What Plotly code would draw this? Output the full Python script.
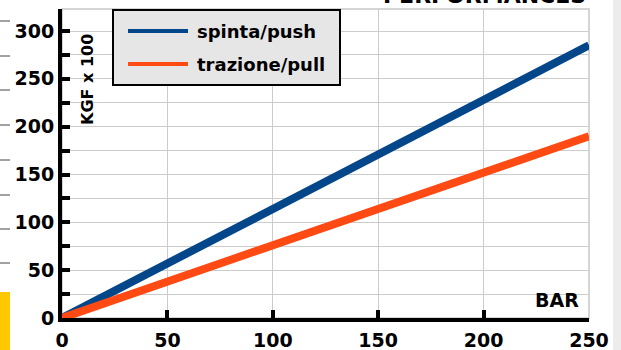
import plotly.graph_objects as go

# Cylinder force vs. pressure
pressure_bar = [0, 250]
push_kgf100 = [0, 285]
pull_kgf100 = [0, 190]
series_names = ["spinta/push", "trazione/pull"]
series_colors = ["#03468a", "#ff4a14"]
y_tick_vals = list(range(0, 325, 25))
y_tick_text = [str(v) if v % 50 == 0 else "" for v in y_tick_vals]
x_tick_vals = [0, 50, 100, 150, 200, 250]

W, H = 621, 350
L, R, T, B = 62, 32, 9, 32
PW, PH = W - L - R, H - T - B

def px(x):
    return (x - L) / PW

def py(y):
    return (H - B - y) / PH

BOLD = dict(family="DejaVu Sans", size=16, color="black", weight="bold")

fig = go.Figure()
for vals, name, col in zip([push_kgf100, pull_kgf100], series_names, series_colors):
    fig.add_trace(go.Scatter(x=pressure_bar, y=vals, mode="lines", name=name,
                             line=dict(color=col, width=8), showlegend=False))

shapes = []
annotations = []

# light frame around the plotting area
shapes.append(dict(type="rect", xref="paper", yref="paper", x0=0, x1=1, y0=0, y1=1,
                   line=dict(color="#c8c8c8", width=1.5), layer="below"))

# legend box
shapes.append(dict(type="rect", xref="paper", yref="paper",
                   x0=px(113), x1=px(340), y0=py(85), y1=py(10),
                   line=dict(color="black", width=2), fillcolor="#e6e6e6", layer="above"))
for i, (name, col) in enumerate(zip(series_names, series_colors)):
    yy = py(31 + i * 33)
    shapes.append(dict(type="line", xref="paper", yref="paper",
                       x0=px(128), x1=px(188), y0=yy, y1=yy,
                       line=dict(color=col, width=4), layer="above"))
    annotations.append(dict(xref="paper", yref="paper", x=px(195), y=yy, text=name,
                            showarrow=False, xanchor="left", yanchor="middle",
                            font=dict(BOLD, size=18)))

# axis titles inside the plot
annotations.append(dict(xref="paper", yref="paper", x=px(87), y=py(80), text="KGF x 100",
                        textangle=-90, showarrow=False, xanchor="center", yanchor="middle",
                        font=dict(BOLD, size=16)))
annotations.append(dict(xref="paper", yref="paper", x=px(581), y=py(300), text="BAR",
                        showarrow=False, xanchor="right", yanchor="middle",
                        font=dict(BOLD, size=19)))

# page heading, partly above the visible area
annotations.append(dict(xref="paper", yref="paper", x=px(484), y=py(10), text="PERFORMANCES",
                        showarrow=False, xanchor="center", yanchor="bottom",
                        font=dict(BOLD, size=22)))

# page side elements
for yv in [21, 56, 90, 125, 160, 195, 229, 263]:
    shapes.append(dict(type="line", xref="paper", yref="paper",
                       x0=px(0), x1=px(10), y0=py(yv), y1=py(yv),
                       line=dict(color="#444444", width=1)))
shapes.append(dict(type="rect", xref="paper", yref="paper",
                   x0=px(0), x1=px(10), y0=py(350), y1=py(292),
                   line=dict(width=0), fillcolor="#ffc800"))
shapes.append(dict(type="rect", xref="paper", yref="paper",
                   x0=px(613), x1=px(621), y0=py(350), y1=py(0),
                   line=dict(width=0), fillcolor="#ececec"))

fig.update_layout(
    width=W, height=H,
    margin=dict(l=L, r=R, t=T, b=B),
    paper_bgcolor="white", plot_bgcolor="white",
    shapes=shapes, annotations=annotations,
    showlegend=False,
)
fig.update_xaxes(range=[0, 250], tickvals=x_tick_vals, showgrid=True, gridcolor="#cccccc",
                 gridwidth=1, showline=True, linecolor="black", linewidth=4,
                 ticks="inside", ticklen=8, tickwidth=4, tickcolor="black",
                 ticklabelstandoff=2, automargin=False,
                 tickfont=dict(BOLD, size=19), zeroline=False)
fig.update_yaxes(range=[0, 323], tickvals=y_tick_vals, ticktext=y_tick_text, showgrid=True,
                 gridcolor="#cccccc", gridwidth=1, showline=True, linecolor="black",
                 linewidth=4, ticks="inside", ticklen=8, tickwidth=4, tickcolor="black",
                 automargin=False,
                 tickfont=dict(BOLD, size=19), zeroline=False)

fig.write_html("out.html")
